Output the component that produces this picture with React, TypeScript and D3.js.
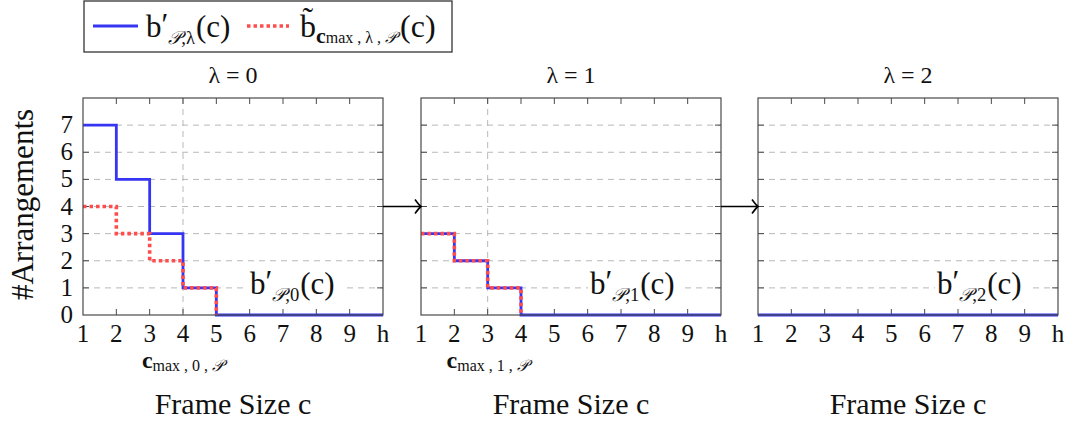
import React from "react";
import * as d3 from "d3";

const X_VALUES = [1, 2, 3, 4, 5, 6, 7, 8, 9, 10];
const X_TICK_LABELS = ["1", "2", "3", "4", "5", "6", "7", "8", "9", "h"];
const Y_TICKS = [0, 1, 2, 3, 4, 5, 6, 7];
const LAMBDAS = [0, 1, 2];

const BLUE_0 = [7, 5, 3, 1, 0, 0, 0, 0, 0, 0];
const RED_0 = [4, 3, 2, 1, 0];
const BLUE_1 = [3, 2, 1, 0, 0, 0, 0, 0, 0, 0];
const RED_1 = [3, 2, 1, 0];
const BLUE_2 = [0, 0, 0, 0, 0, 0, 0, 0, 0, 0];
const RED_2: number[] = [];
const C_MAX = [4, 3, null];
const ARROW_Y = 4;

const BLUES = [BLUE_0, BLUE_1, BLUE_2];
const REDS = [RED_0, RED_1, RED_2];

const W = 1073;
const H = 427;
const PANEL_LEFT = [83, 421, 758];
const PANEL_W = 300;
const TOP = 98;
const BOTTOM = 315;
const ANN_DX = [167, 169, 179];
const SERIF = "'Liberation Serif', 'DejaVu Serif', serif";
const BLUE = "#3535f2";
const RED = "#ff4d4d";
const GRID = "#b8b8b8";
const FRAME = "#4a4a4a";

function BPrime({ x, y, idx, size }: { x: number; y: number; idx: string; size: number }) {
  const sub = size * 0.6;
  return (
    <text x={x} y={y} fontFamily={SERIF} fontSize={size} fill="#111">
      <tspan>b</tspan>
      <tspan dy={-size * 0.08}>′</tspan>
      <tspan dy={size * 0.3} fontSize={sub} fontStyle="italic">𝒫</tspan>
      <tspan fontSize={sub}>,{idx}</tspan>
      <tspan dx={size * 0.03} dy={-size * 0.22}>(c)</tspan>
    </text>
  );
}

export default function App() {
  const y = d3.scaleLinear().domain([0, 8]).range([BOTTOM, TOP]);
  const xs = PANEL_LEFT.map((l) => d3.scaleLinear().domain([1, 10]).range([l, l + PANEL_W]));

  return (
    <svg width={W} height={H} style={{ position: "absolute", left: 0, top: 0 }}>
      <rect width={W} height={H} fill="#fff" />
      {/* legend */}
      <rect x={84} y={1} width={368} height={51} fill="#fff" stroke="#333" strokeWidth={1.3} />
      <line x1={93} x2={138} y1={26} y2={26} stroke={BLUE} strokeWidth={2.8} />
      <BPrime x={146} y={37} idx="λ" size={31} />
      <line x1={247} x2={289} y1={26} y2={26} stroke={RED} strokeWidth={3.6} strokeDasharray="3.5,3" />
      <text x={300} y={37} fontFamily={SERIF} fontSize={32} fill="#111">
        <tspan>b̃</tspan>
        <tspan dy={6} fontSize={22} fontWeight="bold">c</tspan>
        <tspan fontSize={16}>max , λ , </tspan>
        <tspan fontSize={16} fontStyle="italic">𝒫</tspan>
        <tspan dy={-6} dx={3}>(c)</tspan>
      </text>

      {LAMBDAS.map((lam, i) => {
        const x = xs[i];
        const left = PANEL_LEFT[i];
        const right = left + PANEL_W;
        const line = d3
          .line<number>()
          .x((_, j) => x(X_VALUES[j]))
          .y((v) => y(v))
          .curve(d3.curveStepAfter);
        const cm = C_MAX[i];
        const annX = left + ANN_DX[i];
        return (
          <g key={lam}>
            <text x={(left + right) / 2} y={83} textAnchor="middle" fontFamily={SERIF} fontSize={24} fill="#111">
              λ = {lam}
            </text>
            {/* grid */}
            {Y_TICKS.filter((t) => t > 0).map((t) => (
              <line key={t} x1={left} x2={right} y1={y(t)} y2={y(t)} stroke={GRID} strokeWidth={1} strokeDasharray="6,5" />
            ))}
            {cm !== null && (
              <line x1={x(cm)} x2={x(cm)} y1={TOP} y2={BOTTOM} stroke={GRID} strokeWidth={1} strokeDasharray="6,5" />
            )}
            {/* ticks */}
            {X_VALUES.slice(1, -1).map((v) => (
              <g key={v}>
                <line x1={x(v)} x2={x(v)} y1={TOP} y2={TOP + 6} stroke={FRAME} strokeWidth={1} />
                <line x1={x(v)} x2={x(v)} y1={BOTTOM} y2={BOTTOM - 6} stroke={FRAME} strokeWidth={1} />
              </g>
            ))}
            {Y_TICKS.filter((t) => t > 0).map((t) => (
              <g key={t}>
                <line x1={left} x2={left + 6} y1={y(t)} y2={y(t)} stroke={FRAME} strokeWidth={1} />
                <line x1={right} x2={right - 6} y1={y(t)} y2={y(t)} stroke={FRAME} strokeWidth={1} />
              </g>
            ))}
            {/* annotation */}
            <rect x={annX - 2} y={266} width={94} height={35} fill="#fff" />
            <BPrime x={annX} y={294} idx={String(lam)} size={31} />
            {/* series */}
            <path d={line(BLUES[i]) || ""} fill="none" stroke={BLUE} strokeWidth={2.8} />
            {REDS[i].length > 0 && (
              <path d={line(REDS[i]) || ""} fill="none" stroke={RED} strokeWidth={3.6} strokeDasharray="3.5,3" />
            )}
            {/* frame */}
            <rect x={left} y={TOP} width={PANEL_W} height={BOTTOM - TOP} fill="none" stroke={FRAME} strokeWidth={1.2} />
            {/* x tick labels */}
            {X_VALUES.map((v, j) => (
              <text key={v} x={x(v)} y={342} textAnchor="middle" fontFamily={SERIF} fontSize={25} fill="#111">
                {X_TICK_LABELS[j]}
              </text>
            ))}
            {cm !== null && (
              <text x={x(cm)} y={368} textAnchor="middle" fontFamily={SERIF} fontSize={24} fill="#111">
                <tspan fontWeight="bold">c</tspan>
                <tspan dy={3} fontSize={16}>max , {lam} , </tspan>
                <tspan fontSize={16} fontStyle="italic">𝒫</tspan>
              </text>
            )}
            <text x={(left + right) / 2} y={414} textAnchor="middle" fontFamily={SERIF} fontSize={30} fill="#111">
              Frame Size c
            </text>
          </g>
        );
      })}

      {/* y tick labels */}
      {Y_TICKS.map((t) => (
        <text key={t} x={73} y={y(t) + 8} textAnchor="end" fontFamily={SERIF} fontSize={25} fill="#111">
          {t}
        </text>
      ))}
      <text
        transform={`translate(33, ${(TOP + BOTTOM) / 2 - 2}) rotate(-90)`}
        textAnchor="middle"
        fontFamily={SERIF}
        fontSize={31}
        fill="#111"
      >
        #Arrangements
      </text>

      {/* arrows */}
      {[0, 1].map((i) => {
        const x1 = PANEL_LEFT[i] + PANEL_W;
        const x2 = PANEL_LEFT[i + 1];
        const yy = y(ARROW_Y);
        return (
          <g key={i}>
            <line x1={x1} x2={x2 - 1} y1={yy} y2={yy} stroke="#000" strokeWidth={1.6} />
            <path
              d={`M ${x2 - 6} ${yy - 7} Q ${x2 - 2} ${yy - 1.5} ${x2} ${yy} Q ${x2 - 2} ${yy + 1.5} ${x2 - 6} ${yy + 7}`}
              fill="none"
              stroke="#000"
              strokeWidth={1.6}
            />
          </g>
        );
      })}
    </svg>
  );
}
